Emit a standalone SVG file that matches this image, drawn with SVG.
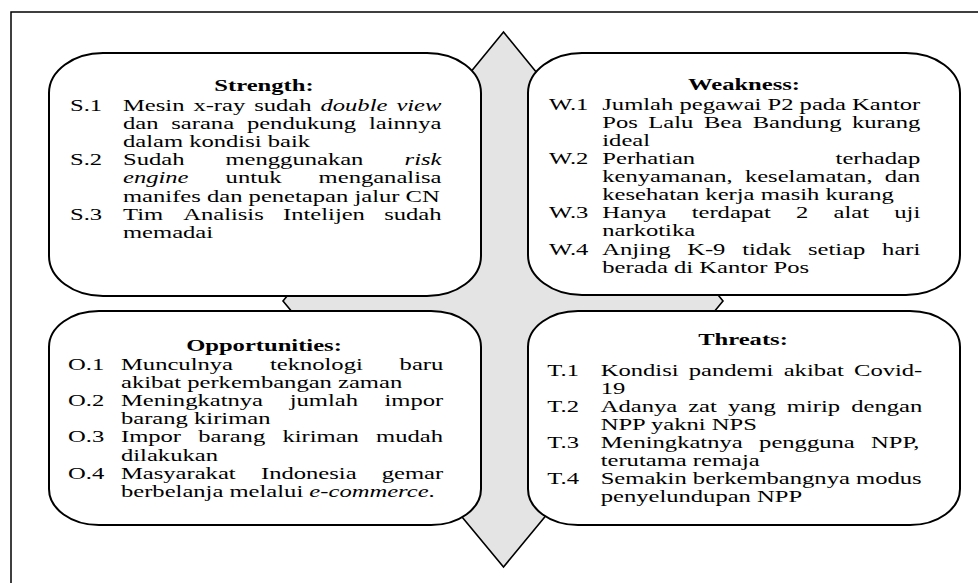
<svg xmlns="http://www.w3.org/2000/svg" width="978" height="583" viewBox="0 0 978 583">
<style>
.frame{fill:#ffffff;stroke:#000;stroke-width:1.5}
.dia{fill:#e4e4e4;stroke:#000;stroke-width:1.6}
.box{fill:#ffffff;stroke:#000;stroke-width:2}
text{font-family:"Liberation Serif","Times New Roman",serif;font-size:24.6px;fill:#000}
.h{font-weight:bold;text-anchor:middle}
.i{font-style:italic}
</style>
<rect x="0" y="0" width="978" height="583" fill="#ffffff"/>
<rect class="frame" x="11" y="12" width="1000" height="600"/>
<g id="center-diamond"><polygon class="dia" points="503.5,32 723,301 503.5,567 283,301"/></g>

<g id="strength">
<rect class="box" x="49" y="53" width="432" height="243" rx="54" ry="40"/>
<text class="h" transform="translate(264,91.3) scale(1,0.66)">Strength:</text>
<text transform="translate(0,111) scale(1,0.66)"><tspan x="70">S.1</tspan><tspan x="123">Mesin</tspan><tspan x="193.4">x-ray</tspan><tspan x="254.2">sudah</tspan><tspan class="i" x="320.5">double</tspan><tspan class="i" x="396.4">view</tspan></text>
<text transform="translate(0,129.1) scale(1,0.66)"><tspan x="123">dan</tspan><tspan x="171.3">sarana</tspan><tspan x="246.9">pendukung</tspan><tspan x="369">lainnya</tspan></text>
<text transform="translate(0,147.2) scale(1,0.66)" x="123">dalam kondisi baik</text>
<text transform="translate(0,165.3) scale(1,0.66)"><tspan x="70">S.2</tspan><tspan x="123">Sudah</tspan><tspan x="225.5">menggunakan</tspan><tspan class="i" x="404.6">risk</tspan></text>
<text transform="translate(0,183.4) scale(1,0.66)"><tspan class="i" x="123">engine</tspan><tspan x="225.6">untuk</tspan><tspan x="318.6">menganalisa</tspan></text>
<text transform="translate(0,201.5) scale(1,0.66)" x="123">manifes dan penetapan jalur CN</text>
<text transform="translate(0,219.6) scale(1,0.66)"><tspan x="70">S.3</tspan><tspan x="123">Tim</tspan><tspan x="183.2">Analisis</tspan><tspan x="283">Intelijen</tspan><tspan x="384.2">sudah</tspan></text>
<text transform="translate(0,237.7) scale(1,0.66)" x="123">memadai</text>
</g>

<g id="weakness">
<rect class="box" x="528" y="53" width="432" height="242" rx="54" ry="40"/>
<text class="h" transform="translate(744,89.8) scale(1,0.66)">Weakness:</text>
<text transform="translate(0,110) scale(1,0.66)"><tspan x="549">W.1</tspan><tspan x="602.3">Jumlah</tspan><tspan x="679.5">pegawai</tspan><tspan x="767.5">P2</tspan><tspan x="799.6">pada</tspan><tspan x="852">Kantor</tspan></text>
<text transform="translate(0,128.1) scale(1,0.66)"><tspan x="602.3">Pos</tspan><tspan x="648.3">Lalu</tspan><tspan x="703.9">Bea</tspan><tspan x="752.7">Bandung</tspan><tspan x="852">kurang</tspan></text>
<text transform="translate(0,146.1) scale(1,0.66)" x="602.3">ideal</text>
<text transform="translate(0,164.2) scale(1,0.66)"><tspan x="549">W.2</tspan><tspan x="602.3">Perhatian</tspan><tspan x="835.6">terhadap</tspan></text>
<text transform="translate(0,182.2) scale(1,0.66)"><tspan x="602.3">kenyamanan,</tspan><tspan x="744.9">keselamatan,</tspan><tspan x="884.8">dan</tspan></text>
<text transform="translate(0,200.3) scale(1,0.66)" x="602.3">kesehatan kerja masih kurang</text>
<text transform="translate(0,218.4) scale(1,0.66)"><tspan x="549">W.3</tspan><tspan x="602.3">Hanya</tspan><tspan x="691.7">terdapat</tspan><tspan x="796.1">2</tspan><tspan x="833.6">alat</tspan><tspan x="894.3">uji</tspan></text>
<text transform="translate(0,236.4) scale(1,0.66)" x="602.3">narkotika</text>
<text transform="translate(0,254.5) scale(1,0.66)"><tspan x="549">W.4</tspan><tspan x="602.3">Anjing</tspan><tspan x="687.2">K-9</tspan><tspan x="742.2">tidak</tspan><tspan x="808">setiap</tspan><tspan x="882.1">hari</tspan></text>
<text transform="translate(0,272.5) scale(1,0.66)" x="602.3">berada di Kantor Pos</text>
</g>

<g id="opportunities">
<rect class="box" x="49" y="311" width="432" height="214" rx="50" ry="36"/>
<text class="h" transform="translate(264,351) scale(1,0.66)">Opportunities:</text>
<text transform="translate(0,370) scale(1,0.66)"><tspan x="68">O.1</tspan><tspan x="121">Munculnya</tspan><tspan x="269.9">teknologi</tspan><tspan x="399.6">baru</tspan></text>
<text transform="translate(0,388.1) scale(1,0.66)" x="121">akibat perkembangan zaman</text>
<text transform="translate(0,406.2) scale(1,0.66)"><tspan x="68">O.2</tspan><tspan x="121">Meningkatnya</tspan><tspan x="289.7">jumlah</tspan><tspan x="384.5">impor</tspan></text>
<text transform="translate(0,424.3) scale(1,0.66)" x="121">barang kiriman</text>
<text transform="translate(0,442.4) scale(1,0.66)"><tspan x="68">O.3</tspan><tspan x="121">Impor</tspan><tspan x="198.3">barang</tspan><tspan x="282.4">kiriman</tspan><tspan x="376.1">mudah</tspan></text>
<text transform="translate(0,460.5) scale(1,0.66)" x="121">dilakukan</text>
<text transform="translate(0,478.6) scale(1,0.66)"><tspan x="68">O.4</tspan><tspan x="121">Masyarakat</tspan><tspan x="261">Indonesia</tspan><tspan x="381.8">gemar</tspan></text>
<text transform="translate(0,496.7) scale(1,0.66)" x="121">berbelanja melalui <tspan class="i">e-commerce</tspan>.</text>
</g>

<g id="threats">
<rect class="box" x="528" y="311" width="432" height="214" rx="50" ry="36"/>
<text class="h" transform="translate(743,345) scale(1,0.66)">Threats:</text>
<text transform="translate(0,376) scale(1,0.66)"><tspan x="547.3">T.1</tspan><tspan x="600.7">Kondisi</tspan><tspan x="688.8">pandemi</tspan><tspan x="783.7">akibat</tspan><tspan x="854">Covid-</tspan></text>
<text transform="translate(0,394) scale(1,0.66)" x="600.7">19</text>
<text transform="translate(0,412) scale(1,0.66)"><tspan x="547.3">T.2</tspan><tspan x="600.7">Adanya</tspan><tspan x="688.2">zat</tspan><tspan x="728">yang</tspan><tspan x="786.8">mirip</tspan><tspan x="851.2">dengan</tspan></text>
<text transform="translate(0,430) scale(1,0.66)" x="600.7">NPP yakni NPS</text>
<text transform="translate(0,448) scale(1,0.66)"><tspan x="547.3">T.3</tspan><tspan x="600.7">Meningkatnya</tspan><tspan x="759.1">pengguna</tspan><tspan x="871">NPP,</tspan></text>
<text transform="translate(0,466) scale(1,0.66)" x="600.7">terutama remaja</text>
<text transform="translate(0,484) scale(1,0.66)"><tspan x="547.3">T.4</tspan><tspan x="600.7">Semakin berkembangnya modus</tspan></text>
<text transform="translate(0,502) scale(1,0.66)" x="600.7">penyelundupan NPP</text>
</g>
</svg>
